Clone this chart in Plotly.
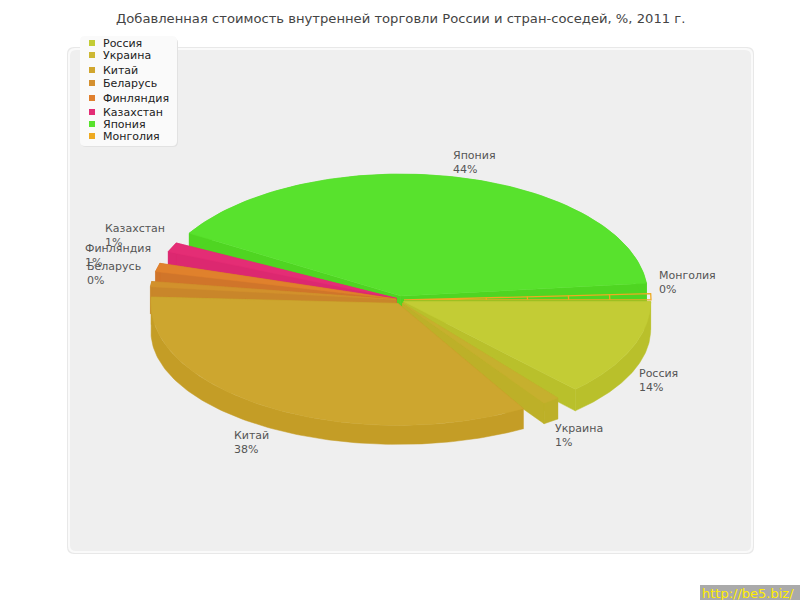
import numpy as np
import plotly.graph_objects as go

TITLE = "Добавленная стоимость внутренней торговли России и стран-соседей, %, 2011 г."
categories = ["Россия", "Украина", "Китай", "Беларусь", "Финляндия", "Казахстан", "Япония", "Монголия"]
percent = [14, 1, 38, 0, 1, 1, 44, 0]
# wedge extents as seen in the picture, degrees clockwise from east
angle_start = [0, 51, 59.5, 186, 193, 202.5, 211, 356.8]
angle_end = [46, 55, 183, 188.5, 197, 207, 354, 360]
top_colors = ["#c3cc35", "#c6b02e", "#cda62f", "#d2912c", "#e0812c", "#e42d75", "#58e22d", "#eeaa22"]
wall_colors = ["#b9c02b", "#bdb028", "#c49d26", "#c9862a", "#d0752a", "#dc2870", "#4fd522", "#eeaa22"]
legend_colors = ["#c3cc35", "#cdb834", "#d1a62f", "#d4902f", "#e0802e", "#e32d75", "#58e22d", "#eeaa22"]
legend_y = [43, 55, 70, 83, 98, 112, 124, 136]
label_x = [638, 554, 233, 86, 84, 104, 452, 658]
label_y = [366, 421, 428, 259, 241, 221, 148, 268]

CX, CY, RX, RY, PULL = 400, 300, 247, 122, 4
draw_order = [6, 5, 4, 3, 0, 1, 2]  # back to front; Монголия is outlined on top
FONT = "DejaVu Sans"


def depth(theta):
    return 28 - 9 * np.abs(np.sin(theta))


def wedge(i, n=120):
    a0, a1 = np.radians(angle_start[i]), np.radians(angle_end[i])
    mid = (a0 + a1) / 2
    ox, oy = CX + PULL * np.cos(mid), CY + PULL * np.sin(mid)
    t = np.linspace(a0, a1, n)
    return ox, oy, t, ox + RX * np.cos(t), oy + RY * np.sin(t)


def poly(xs, ys, color):
    return go.Scatter(x=xs, y=ys, mode="lines", fill="toself", fillcolor=color,
                      line=dict(color=color, width=0.5), hoverinfo="skip", showlegend=False)


fig = go.Figure()
for i in draw_order:
    ox, oy, t, x, y = wedge(i)
    d0, d1 = depth(t[0]), depth(t[-1])
    # cut faces
    fig.add_trace(poly([ox, x[0], x[0], ox, ox], [oy, y[0], y[0] + d0, oy + 20, oy], wall_colors[i]))
    fig.add_trace(poly([ox, x[-1], x[-1], ox, ox], [oy, y[-1], y[-1] + d1, oy + 20, oy], wall_colors[i]))
    # outer wall
    fig.add_trace(poly(np.r_[x, x[::-1]], np.r_[y, (y + depth(t))[::-1]], wall_colors[i]))
    # top face
    fig.add_trace(poly(np.r_[ox, x, ox], np.r_[oy, y, oy], top_colors[i]))

# Монголия: a thin wedge seen only as its outline with radial mesh ticks
ox, oy, t, x, y = wedge(7, 12)
mx = [ox, *x, ox]
my = [oy, *y, oy]
for k in range(1, 6):
    f = k / 6
    mx += [None, ox + RX * f * np.cos(t[0]), ox + RX * f * np.cos(t[-1])]
    my += [None, oy + RY * f * np.sin(t[0]), oy + RY * f * np.sin(t[-1])]
fig.add_trace(go.Scatter(x=mx, y=my, mode="lines", line=dict(color=top_colors[7], width=1.3),
                         hoverinfo="skip", showlegend=False))

# legend swatches
fig.add_trace(go.Scatter(x=[92] * len(categories), y=legend_y, mode="markers",
                         marker=dict(symbol="square", size=6, color=legend_colors),
                         hoverinfo="skip", showlegend=False))


def rounded(x0, y0, x1, y1, r):
    return (f"M{x0+r},{y0} L{x1-r},{y0} Q{x1},{y0} {x1},{y0+r} L{x1},{y1-r} Q{x1},{y1} {x1-r},{y1} "
            f"L{x0+r},{y1} Q{x0},{y1} {x0},{y1-r} L{x0},{y0+r} Q{x0},{y0} {x0+r},{y0} Z")


shapes = [
    dict(type="path", path=rounded(67, 47, 754, 554, 7), fillcolor="#e8e8e8", line_width=0, layer="below"),
    dict(type="path", path=rounded(68, 48, 753, 553, 7), fillcolor="#fafafa", line_width=0, layer="below"),
    dict(type="path", path=rounded(70, 50, 751, 551, 6), fillcolor="#efefef", line_width=0, layer="below"),
    dict(type="path", path=rounded(81, 38, 178, 147, 5), fillcolor="#e2e2e2", line_width=0, layer="below"),
    dict(type="path", path=rounded(80, 36, 177, 146, 5), fillcolor="#fafafa", line_width=0, layer="below"),
    dict(type="rect", x0=700, x1=800, y0=585, y1=600, fillcolor="#aaaaaa", line_width=0, layer="below"),
]

annotations = []
for name, yy in zip(categories, legend_y):
    annotations.append(dict(x=102, y=yy, text=name, xanchor="left", yanchor="middle", showarrow=False,
                            xref="x", yref="y", font=dict(family=FONT, size=11, color="#222222"),
                            borderpad=0, align="left"))
for name, p, lx, ly in zip(categories, percent, label_x, label_y):
    annotations.append(dict(x=lx, y=ly, text=f"{name}<br>{p}%", xanchor="left", yanchor="top", showarrow=False,
                            xref="x", yref="y", font=dict(family=FONT, size=11, color="#555555"),
                            borderpad=0, align="left"))
annotations.append(dict(x=701, y=593, text="http://be5.biz/", xanchor="left", yanchor="middle", showarrow=False,
                        xref="x", yref="y", font=dict(family=FONT, size=13, color="#ffee00"), borderpad=0))
annotations.append(dict(x=400, y=18, text=TITLE, xanchor="center", yanchor="middle", showarrow=False,
                        xref="x", yref="y", font=dict(family=FONT, size=13.15, color="#444444"), borderpad=0))

fig.update_layout(
    width=800, height=600, autosize=False,
    margin=dict(l=0, r=0, t=0, b=0),
    paper_bgcolor="#ffffff", plot_bgcolor="rgba(0,0,0,0)",
    xaxis=dict(range=[0, 800], visible=False, fixedrange=True),
    yaxis=dict(range=[600, 0], visible=False, fixedrange=True),
    shapes=shapes, annotations=annotations, showlegend=False,
)
fig.write_html("out.html", config={"displayModeBar": False},
               post_script="document.body.style.margin='0';document.body.style.overflow='hidden';")
